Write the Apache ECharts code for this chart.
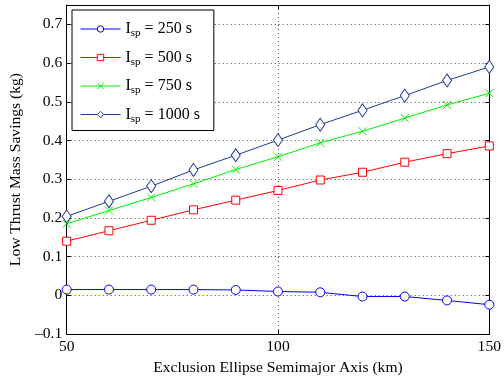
<!DOCTYPE html>
<html><head><meta charset="utf-8">
<script src="https://cdn.jsdelivr.net/npm/echarts@6/dist/echarts.min.js"></script>
<style>html,body{margin:0;padding:0;background:#fff}#c{width:504px;height:381px}</style>
</head><body><div id="c"></div>
<script>
const xValues = [50, 60, 70, 80, 90, 100, 110, 120, 130, 140, 150];
const isp250 = [0.015, 0.015, 0.015, 0.015, 0.014, 0.010, 0.008, -0.003, -0.003, -0.013, -0.024];
const isp500 = [0.140, 0.167, 0.194, 0.221, 0.246, 0.271, 0.298, 0.318, 0.344, 0.366, 0.386];
const isp750 = [0.185, 0.219, 0.253, 0.288, 0.325, 0.358, 0.394, 0.424, 0.458, 0.492, 0.522];
const isp1000 = [0.204, 0.243, 0.282, 0.324, 0.362, 0.401, 0.441, 0.478, 0.516, 0.555, 0.590];
const seriesNames = ['250', '500', '750', '1000'];

const font = 'Liberation Serif';
const fs = 15.6;
const pair = arr => xValues.map((x, i) => [x, arr[i]]);
const chart = echarts.init(document.getElementById('c'), null, {renderer: 'canvas'});
const crossPath = 'path://M0,0L10,10M10,0L0,10';
const mk = (name, data, color, symbol, size, fill) => ({
  name, type: 'line', data: pair(data), symbol, symbolSize: size,
  lineStyle: {color, width: 1},
  itemStyle: {color: fill || '#fff', borderColor: color, borderWidth: 1},
  emphasis: {disabled: true},
  xAxisIndex: 0, yAxisIndex: 0, animation: false
});

chart.setOption({
  animation: false,
  grid: {left: 65, right: 9, top: 5, bottom: 41},
  legend: {
    orient: 'vertical', left: 72, top: 10, itemWidth: 40, itemHeight: 8, itemGap: 8.5,
    backgroundColor: '#fff', borderColor: '#000', borderWidth: 1, borderRadius: 0,
    padding: [9, 14, 6, 8],
    data: seriesNames,
    lineStyle: {width: 1},
    itemStyle: {borderWidth: 1},
    formatter: n => '{i|I}{s|sp}{t| = ' + n + ' s}',
    textStyle: {
      fontFamily: font, color: '#000',
      rich: {
        i: {fontFamily: font, fontSize: 16, color: '#000', lineHeight: 18},
        s: {fontFamily: font, fontSize: 11, color: '#000', padding: [9, 0, 0, 0], lineHeight: 18},
        t: {fontFamily: font, fontSize: 16, color: '#000', lineHeight: 18}
      }
    }
  },
  xAxis: [{
    type: 'value', min: 50, max: 150, interval: 50,
    name: 'Exclusion Ellipse Semimajor Axis (km)', nameLocation: 'middle', nameGap: 24,
    nameTextStyle: {fontFamily: font, fontSize: fs, color: '#000'},
    axisLine: {onZero: false, lineStyle: {color: '#000', width: 1}},
    axisTick: {inside: true, length: 4, lineStyle: {color: '#000'}},
    axisLabel: {fontFamily: font, fontSize: fs, color: '#000', margin: 5},
    splitLine: {show: true, lineStyle: {color: '#444', type: [1, 3], width: 1}}
  }, {
    type: 'value', position: 'top', min: 50, max: 150, interval: 50,
    axisLine: {onZero: false, lineStyle: {color: '#000', width: 1}},
    axisTick: {inside: true, length: 4, lineStyle: {color: '#000'}},
    axisLabel: {show: false}, splitLine: {show: false}
  }],
  yAxis: [{
    type: 'value', min: -0.1, max: 0.75, interval: 0.1,
    name: 'Low Thrust Mass Savings (kg)', nameLocation: 'middle', nameGap: 38,
    nameTextStyle: {fontFamily: font, fontSize: fs, color: '#000'},
    axisLine: {show: true, onZero: false, lineStyle: {color: '#000', width: 1}},
    axisTick: {inside: true, length: 4, lineStyle: {color: '#000'}},
    axisLabel: {
      fontFamily: font, fontSize: fs, color: '#000', margin: 4.5, showMaxLabel: false,
      formatter: v => {
        if (v > 0.72) return '';
        const r = Math.round(v * 10) / 10;
        return r < 0 ? '\u2013' + Math.abs(r) : String(r);
      }
    },
    splitLine: {show: true, lineStyle: {color: '#444', type: [1, 3], width: 1}}
  }, {
    type: 'value', position: 'right', min: -0.1, max: 0.75, interval: 0.1,
    axisLine: {show: true, onZero: false, lineStyle: {color: '#000', width: 1}},
    axisTick: {show: true, inside: true, length: 4, lineStyle: {color: '#000'}},
    axisLabel: {show: false}, splitLine: {show: false}
  }],
  series: [
    mk('250', isp250, '#0000ff', 'circle', 9),
    mk('500', isp500, '#ff0000', 'rect', 8),
    mk('750', isp750, '#00ee00', crossPath, 8, '#00ee00'),
    mk('1000', isp1000, '#1f3a9a', 'diamond', [9, 13])
  ]
});
</script></body></html>
